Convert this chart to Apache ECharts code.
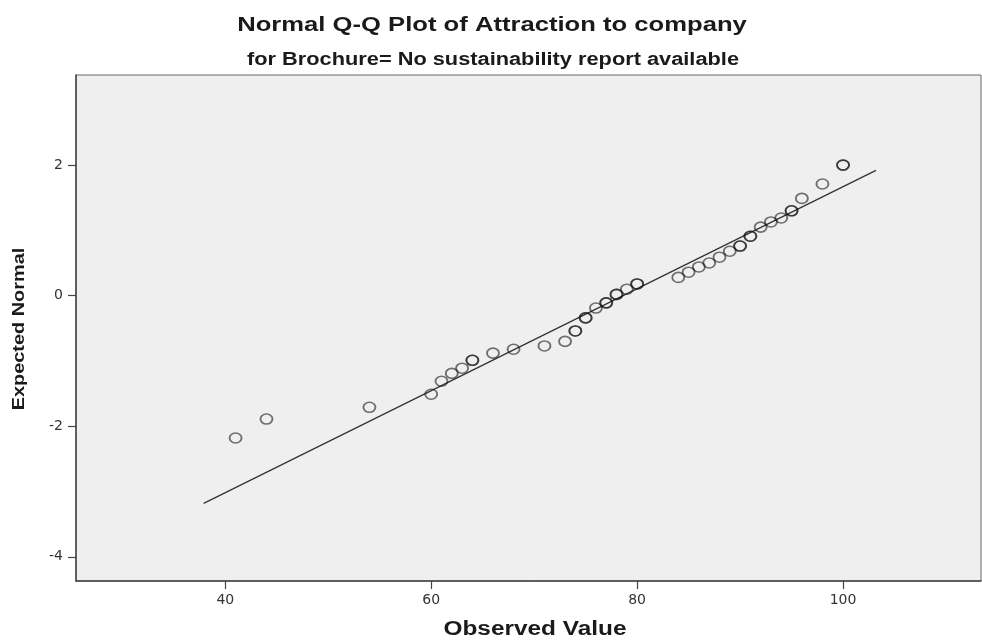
<!DOCTYPE html>
<html>
<head>
<meta charset="utf-8">
<script src="https://cdn.jsdelivr.net/npm/echarts@6/dist/echarts.min.js"></script>
<style>
  html, body { margin: 0; padding: 0; background: #ffffff; }
  #chart { width: 982px; height: 643px; }
</style>
</head>
<body>
<div id="chart"></div>
<script>
// Observed values and their expected normal scores
const observed = [41, 44, 54, 60, 61, 62, 63, 64, 64, 66, 68, 71, 73, 74, 74, 75, 75, 76, 77, 77, 78, 78, 79, 80, 80,
                  84, 85, 86, 87, 88, 89, 90, 90, 91, 91, 92, 93, 94, 95, 95, 96, 98, 100, 100];
const expected = [-2.18, -1.89, -1.71, -1.51, -1.31, -1.19, -1.11, -0.99, -0.99, -0.88, -0.82, -0.77, -0.70, -0.54, -0.54,
                  -0.34, -0.34, -0.19, -0.11, -0.11, 0.02, 0.02, 0.10, 0.18, 0.18,
                  0.28, 0.36, 0.44, 0.50, 0.59, 0.68, 0.76, 0.76, 0.91, 0.91, 1.05, 1.13, 1.19, 1.30, 1.30, 1.49, 1.71, 2.00, 2.00];

// Reference line end points (observed, expected normal)
const refLineX = [37.9, 103.2];
const refLineY = [-3.18, 1.92];

// Tick labels
const xTicks = [40, 60, 80, 100];
const yTicks = [-4, -2, 0, 2];

const points = observed.map((v, i) => [v, expected[i]]);
const refLine = refLineX.map((v, i) => [v, refLineY[i]]);

const chart = echarts.init(document.getElementById('chart'));
const textFont = '"Liberation Sans", Arial, sans-serif';
const tickFont = '"DejaVu Sans", sans-serif';

// Headings and axis names are drawn slightly widened, like the SPSS export
function wideText(text, x, y, size, stretch, rotation) {
  return {
    type: 'text', x: x, y: y, scaleX: stretch, rotation: rotation || 0,
    style: {
      text: text, font: 'bold ' + size + 'px ' + textFont, fill: '#1a1a1a',
      textAlign: 'center', textVerticalAlign: 'middle'
    }
  };
}

// Hollow marker, a little wider than tall
const ellipseMarker = 'path://M0,5A6,5 0 1,1 12,5A6,5 0 1,1 0,5Z';

chart.setOption({
  animation: false,
  backgroundColor: '#ffffff',
  graphic: [
    wideText('Normal Q-Q Plot of Attraction to company', 492, 25, 21, 1.22),
    wideText('for Brochure= No sustainability report available', 493, 60, 18, 1.21),
    wideText('Observed Value', 535, 629, 20, 1.22),
    wideText('Expected Normal', 19, 329, 17, 1.17, Math.PI / 2)
  ],
  grid: {
    left: 76, top: 75, right: 1, bottom: 62,
    show: true, backgroundColor: '#eeefee', borderColor: '#666', borderWidth: 1
  },
  xAxis: {
    type: 'value', min: 25.5, max: 113.4,
    axisLine: { show: true, onZero: false, lineStyle: { color: '#444', width: 1.5 } },
    axisTick: { show: true, length: 8, customValues: xTicks, lineStyle: { color: '#444', width: 1.2 } },
    axisLabel: { customValues: xTicks, margin: 12, fontFamily: tickFont, fontSize: 14, color: '#333' },
    splitLine: { show: false }
  },
  yAxis: {
    type: 'value', min: -4.37, max: 3.38,
    axisLine: { show: true, onZero: false, lineStyle: { color: '#444', width: 1.5 } },
    axisTick: { show: true, length: 8, customValues: yTicks, lineStyle: { color: '#444', width: 1.2 } },
    axisLabel: { customValues: yTicks, margin: 13, fontFamily: tickFont, fontSize: 14, color: '#333' },
    splitLine: { show: false }
  },
  series: [
    {
      type: 'line',
      data: refLine,
      symbol: 'none',
      lineStyle: { color: '#333', width: 1.3 },
      z: 2
    },
    {
      type: 'scatter',
      data: points,
      symbol: ellipseMarker,
      symbolSize: [12, 10],
      itemStyle: { color: 'rgba(0,0,0,0)', borderColor: 'rgba(20,20,20,0.74)', borderWidth: 1.7 },
      z: 3
    }
  ]
});
</script>
</body>
</html>
